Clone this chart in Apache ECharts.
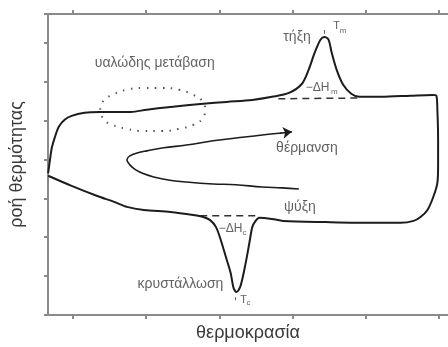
<!DOCTYPE html>
<html><head><meta charset="utf-8">
<script src="https://cdn.jsdelivr.net/npm/echarts@6/dist/echarts.min.js"></script>
<style>html,body{margin:0;padding:0;background:#fff}#c{width:448px;height:347px}</style>
</head><body><div id="c"></div><script>
// x: temperature (arbitrary units), y: heat flow (arbitrary units)
const xTickValues = [40, 60, 80, 100, 120, 140];
const yTickValues = [0, 1, 2, 3, 4, 5, 6, 7];
const xAxisTitle = 'θερμοκρασία';
const yAxisTitle = 'ροή θερμότητας';

const heatingCurve = [[33.3,3.65],[33.8,3.99],[34.3,4.30],[35.1,4.56],[36.2,4.84],[37.8,5.02],[39.7,5.12],[43.2,5.20],[47.3,5.22],[51.3,5.22],[55.9,5.22],[60.2,5.28],[66.7,5.35],[75.6,5.43],[82.0,5.48],[89.0,5.53],[94.4,5.61],[99.0,5.71],[102.5,5.94],[104.4,6.31],[106.0,6.74],[107.6,7.08],[108.7,7.15],[109.8,7.08],[110.6,6.77],[112.0,6.31],[113.8,5.92],[116.0,5.69],[118.2,5.61],[124.1,5.61],[132.2,5.64],[138.1,5.66],[139.2,5.64]];
const coolingCurve = [[139.5,5.28],[139.7,4.50],[139.7,3.86],[139.5,3.40],[138.4,3.04],[136.8,2.70],[134.9,2.52],[133.0,2.42],[129.5,2.37],[122.5,2.37],[109.0,2.39],[97.4,2.42],[94.4,2.47],[90.9,2.50],[89.9,2.42],[89.0,2.26],[88.2,1.85],[87.2,1.34],[85.8,0.75],[84.7,0.59],[83.9,0.69],[83.1,1.08],[81.8,1.49],[80.4,1.93],[79.1,2.26],[77.5,2.44],[75.6,2.52],[72.9,2.57],[66.7,2.65],[59.4,2.70],[54.8,2.78],[51.3,2.91],[46.7,3.06],[39.7,3.32],[33.3,3.58]];
const heatingArrowCurve = [[101.7,3.24],[97.1,3.27],[91.7,3.29],[84.5,3.35],[78.3,3.37],[71.0,3.42],[66.1,3.47],[62.1,3.55],[59.4,3.63],[57.2,3.73],[55.6,3.86],[54.8,3.99],[55.6,4.09],[57.8,4.17],[60.2,4.22],[64.8,4.30],[71.0,4.37],[78.3,4.48],[84.5,4.55],[91.7,4.63],[97.1,4.68]];
const arrowHead = [[96.6,4.675],[99.8,4.71]];
const glassTransitionEllipse = [[47.5,5.28],[48.4,5.51],[50.8,5.66],[54.6,5.79],[59.4,5.84],[64.3,5.84],[69.1,5.79],[72.9,5.66],[75.3,5.51],[76.1,5.28],[75.3,5.04],[72.9,4.89],[69.1,4.79],[64.3,4.73],[59.4,4.73],[54.6,4.79],[50.8,4.89],[48.4,5.04],[47.5,5.28]];
const meltBaseline = [[96.1,5.56],[118.2,5.58]];
const crystBaseline = [[74.8,2.55],[90.7,2.55]];
const peakMarks = [[[108.7,7.23],[108.7,7.33]],[[84.4,0.38],[84.4,0.46]]];
const annotationTexts = ['υαλώδης μετάβαση','τήξη','T','m','−ΔH','m','θέρμανση','ψύξη','κρυστάλλωση','−ΔH','c','T','c'];
const annotationAnchors = [[62.4,6.48],[101.2,7.15],[112.0,7.44],[113.8,7.31],[106.8,5.84],[111.4,5.74],[103.9,4.30],[102.0,2.78],[69.4,0.80],[83.1,2.21],[86.9,2.11],[86.6,0.39],[88.0,0.31]];

const FONT = '"Liberation Sans", Arial, sans-serif';
const INK = '#1c1c1c';
const TXT = '#3a3a3a';
const AXC = '#8a8a8a';

function sizeFor(t){
  if (t.length === 1 && t !== 'T') return 8;
  if (t === 'T') return 11;
  if (t === '−ΔH') return 12;
  return 14;
}

const chart = echarts.init(document.getElementById('c'), null, {renderer:'canvas'});
const xCommon = {
  type:'value', min:33.26, max:142.4,
  axisLine:{show:true, lineStyle:{color:AXC, width:2}},
  axisTick:{show:true, inside:false, length:4, customValues:xTickValues, lineStyle:{color:AXC, width:2}},
  axisLabel:{show:false}, splitLine:{show:false}
};
chart.setOption({
  animation:false,
  grid:{left:43, top:14, right:0, bottom:32, containLabel:false},
  xAxis:[
    Object.assign({}, xCommon, {position:'bottom', name:xAxisTitle, nameLocation:'middle', nameGap:9,
      nameTextStyle:{fontFamily:FONT, fontSize:18, color:TXT}}),
    Object.assign({}, xCommon, {position:'top'})
  ],
  yAxis:{type:'value', min:0, max:7.74, interval:1,
    axisLine:{show:true, lineStyle:{color:AXC, width:2}},
    axisTick:{show:true, length:4, lineStyle:{color:AXC, width:2}},
    axisLabel:{show:false}, splitLine:{show:false},
    name:yAxisTitle, nameLocation:'middle', nameGap:22, nameRotate:90,
    nameTextStyle:{fontFamily:FONT, fontSize:18, color:TXT}
  },
  series:[
    {type:'line', data:heatingCurve.concat(coolingCurve), smooth:0.3, showSymbol:false, symbol:'none',
      lineStyle:{color:INK, width:2}, z:5},
    {type:'line', data:heatingArrowCurve, smooth:0.4, showSymbol:false, symbol:'none',
      lineStyle:{color:INK, width:1.6}, z:5},
    {type:'lines', coordinateSystem:'cartesian2d', polyline:false, data:[{coords:arrowHead}],
      symbol:['none','arrow'], symbolSize:[0,9], lineStyle:{color:INK, width:1.6, opacity:1, curveness:0}, z:6},
    {type:'line', data:glassTransitionEllipse, smooth:0.5, showSymbol:false, symbol:'none',
      lineStyle:{color:'#555', width:2, type:[1.5,6.5]}, z:4},
    {type:'line', data:meltBaseline, showSymbol:false, symbol:'none',
      lineStyle:{color:'#333', width:1.5, type:[7,5]}, z:4},
    {type:'line', data:crystBaseline, showSymbol:false, symbol:'none',
      lineStyle:{color:'#333', width:1.5, type:[7,5]}, z:4},
    {type:'lines', coordinateSystem:'cartesian2d', data:peakMarks.map(c=>({coords:c})),
      symbol:'none', lineStyle:{color:'#666', width:1, opacity:1}, z:4},
    {type:'scatter', symbolSize:0, z:6,
      data:annotationAnchors.map((v,i)=>({value:v, name:annotationTexts[i],
        label:{fontSize:sizeFor(annotationTexts[i])}})),
      label:{show:true, position:'inside', formatter:p=>p.name, fontFamily:FONT, color:TXT}
    }
  ]
});
</script></body></html>
